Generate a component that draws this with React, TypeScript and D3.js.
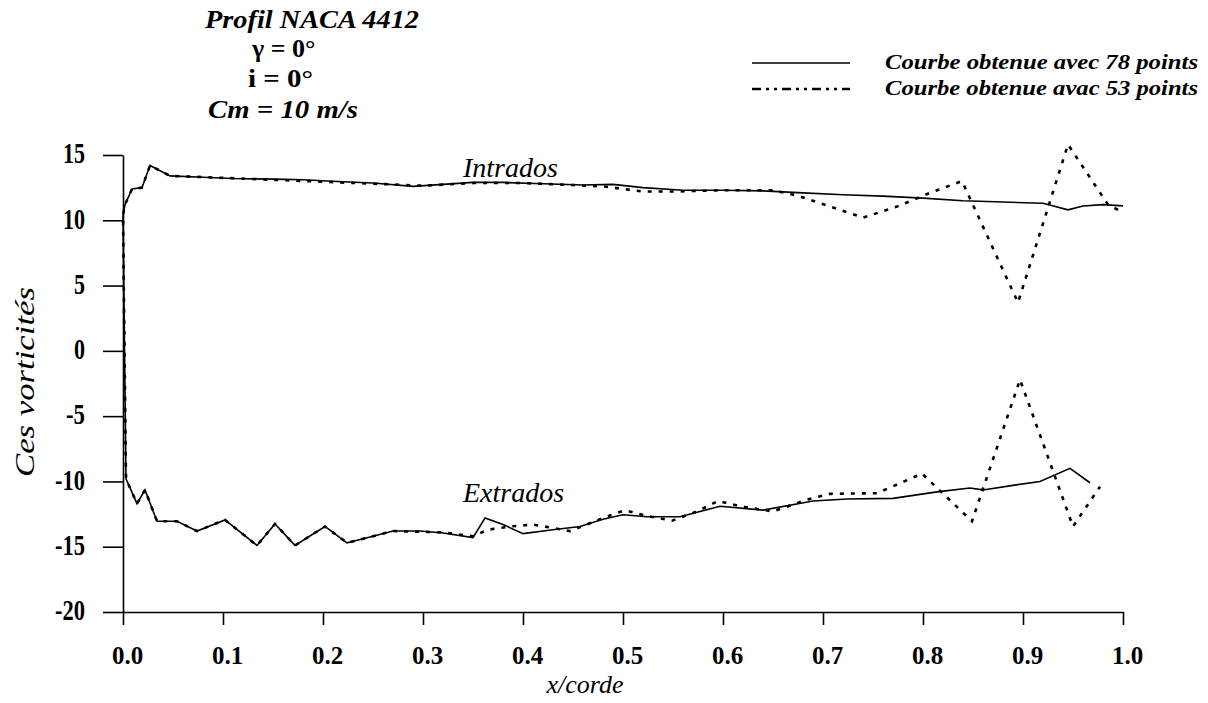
import * as d3 from "d3";
import { useEffect, useRef } from "react";

// x/corde ticks and vorticity ticks
const xTicks = [0, 0.1, 0.2, 0.3, 0.4, 0.5, 0.6, 0.7, 0.8, 0.9, 1.0];
const yTicks = [-20, -15, -10, -5, 0, 5, 10, 15];

// courbe 78 points : intrados (bord d'attaque -> bord de fuite)
const intX78 = [0, 0.002, 0.009, 0.019, 0.027, 0.047, 0.08, 0.11, 0.15, 0.18, 0.22, 0.25, 0.29, 0.32, 0.35, 0.38, 0.42, 0.46, 0.49, 0.52, 0.56, 0.6, 0.64, 0.68, 0.72, 0.76, 0.8, 0.84, 0.88, 0.92, 0.945, 0.96, 0.98, 1.0];
const intV78 = [10.4, 11.2, 12.4, 12.5, 14.2, 13.4, 13.3, 13.2, 13.15, 13.1, 12.95, 12.85, 12.6, 12.75, 12.9, 12.9, 12.8, 12.7, 12.75, 12.5, 12.3, 12.3, 12.25, 12.1, 11.95, 11.85, 11.7, 11.5, 11.4, 11.3, 10.8, 11.1, 11.2, 11.1];
// courbe 78 points : extrados
const extX78 = [0.003, 0.014, 0.022, 0.034, 0.054, 0.074, 0.102, 0.134, 0.152, 0.172, 0.202, 0.224, 0.25, 0.27, 0.297, 0.32, 0.35, 0.362, 0.38, 0.4, 0.43, 0.457, 0.48, 0.5, 0.524, 0.557, 0.597, 0.64, 0.69, 0.724, 0.77, 0.814, 0.847, 0.86, 0.89, 0.917, 0.947, 0.967];
const extV78 = [-9.8, -11.7, -10.65, -13.05, -13.05, -13.8, -12.95, -14.9, -13.25, -14.9, -13.45, -14.7, -14.2, -13.8, -13.8, -13.95, -14.3, -12.8, -13.3, -14.0, -13.7, -13.45, -12.9, -12.55, -12.7, -12.7, -11.9, -12.2, -11.5, -11.35, -11.3, -10.8, -10.5, -10.65, -10.3, -10.0, -9.0, -10.1];

// courbe 53 points : intrados
const intX53 = [0, 0.002, 0.009, 0.019, 0.027, 0.047, 0.1, 0.15, 0.2, 0.25, 0.3, 0.35, 0.4, 0.45, 0.48, 0.52, 0.55, 0.6, 0.65, 0.674, 0.717, 0.74, 0.774, 0.807, 0.839, 0.895, 0.945, 0.985, 0.995];
const intV53 = [10.4, 11.2, 12.4, 12.5, 14.2, 13.4, 13.25, 13.1, 12.95, 12.8, 12.65, 12.85, 12.85, 12.7, 12.6, 12.2, 12.2, 12.3, 12.3, 11.9, 10.8, 10.2, 11.05, 12.1, 13.0, 3.7, 15.8, 11.2, 10.8];
// courbe 53 points : extrados
const extX53 = [0.003, 0.014, 0.022, 0.034, 0.054, 0.074, 0.102, 0.134, 0.152, 0.172, 0.202, 0.224, 0.27, 0.32, 0.35, 0.365, 0.387, 0.41, 0.447, 0.48, 0.502, 0.524, 0.549, 0.574, 0.595, 0.617, 0.65, 0.684, 0.707, 0.754, 0.799, 0.849, 0.897, 0.95, 0.977];
const extV53 = [-9.8, -11.7, -10.65, -13.05, -13.05, -13.8, -12.95, -14.9, -13.25, -14.9, -13.45, -14.7, -13.8, -13.9, -14.2, -13.7, -13.45, -13.3, -13.8, -12.8, -12.2, -12.65, -13.0, -12.3, -11.5, -11.9, -12.3, -11.4, -10.95, -10.9, -9.4, -13.05, -2.2, -13.45, -10.4];

const legendLabels = ["Courbe obtenue avec 78 points", "Courbe obtenue avac 53 points"];

const serif = "Liberation Serif";
const dotted = "4,7";

// intrados parcouru du bord de fuite vers le bord d'attaque, puis extrados
const buildCurve = (ix: number[], iv: number[], ex: number[], ev: number[]) => {
  const pts: [number, number][] = [];
  for (let i = ix.length - 1; i >= 0; i--) pts.push([ix[i], iv[i]]);
  for (let i = 0; i < ex.length; i++) pts.push([ex[i], ev[i]]);
  return pts;
};

export default function App() {
  const ref = useRef<SVGSVGElement>(null);

  useEffect(() => {
    const svg = d3.select(ref.current);
    svg.selectAll("*").remove();

    const x = d3.scaleLinear().domain([0, 1]).range([123, 1123]);
    const y = d3.scaleLinear().domain([-20, 15]).range([612, 155]);

    // axes
    const xAxis = svg
      .append("g")
      .attr("transform", "translate(0," + y(-20) + ")")
      .call(
        d3.axisBottom(x)
          .tickValues(xTicks)
          .tickSize(13)
          .tickSizeOuter(0)
          .tickPadding(21)
          .tickFormat(d3.format(".1f") as any)
      );
    const yAxis = svg
      .append("g")
      .attr("transform", "translate(" + x(0) + ",0)")
      .call(
        d3.axisLeft(y)
          .tickValues(yTicks)
          .tickSize(20)
          .tickSizeOuter(0)
          .tickPadding(18)
          .tickFormat(d => String(d))
      );
    [xAxis, yAxis].forEach(a => {
      a.attr("font-family", serif);
      a.selectAll("path, line").attr("stroke", "#000").attr("stroke-width", 1.6);
      a.selectAll("text")
        .attr("fill", "#000")
        .attr("font-family", serif)
        .attr("font-weight", "bold");
    });
    xAxis.selectAll("text").attr("font-size", 25).attr("dx", 4);
    // chiffres étroits et hauts comme sur l'original
    yAxis
      .selectAll<SVGTextElement, number>("text")
      .attr("font-size", 30)
      .attr("dy", "0.26em")
      .attr("lengthAdjust", "spacingAndGlyphs")
      .attr("textLength", d => String(Math.abs(d)).length * 11 + (d < 0 ? 8 : 0));

    const line = d3
      .line<[number, number]>()
      .x(d => x(d[0]))
      .y(d => y(d[1]));

    // courbe 53 points (pointillés)
    svg
      .append("path")
      .attr("d", line(buildCurve(intX53, intV53, extX53, extV53)))
      .attr("fill", "none")
      .attr("stroke", "#000")
      .attr("stroke-width", 2.6)
      .attr("stroke-dasharray", dotted);

    // courbe 78 points (trait continu)
    svg
      .append("path")
      .attr("d", line(buildCurve(intX78, intV78, extX78, extV78)))
      .attr("fill", "none")
      .attr("stroke", "#000")
      .attr("stroke-width", 1.6);

    // legende
    const legend = svg.append("g");
    legendLabels.forEach((label, i) => {
      const ly = 63 + i * 26;
      legend
        .append("line")
        .attr("x1", 752)
        .attr("x2", 850)
        .attr("y1", ly)
        .attr("y2", ly)
        .attr("stroke", "#000")
        .attr("stroke-width", i === 0 ? 1.4 : 2.4)
        .attr("stroke-dasharray", i === 0 ? null : "9,5,3,5,3,5");
      legend
        .append("text")
        .attr("x", 885)
        .attr("y", ly + 6)
        .attr("textLength", 313)
        .attr("lengthAdjust", "spacingAndGlyphs")
        .attr("font-family", serif)
        .attr("font-style", "italic")
        .attr("font-weight", "bold")
        .attr("font-size", 21)
        .text(label);
    });

    // annotations
    const note = (tx: number, ty: number, s: string, size: number, italic = true, anchor = "start") =>
      svg
        .append("text")
        .attr("x", tx)
        .attr("y", ty)
        .attr("text-anchor", anchor)
        .attr("font-family", serif)
        .attr("font-style", italic ? "italic" : "normal")
        .attr("font-size", size)
        .text(s);

    note(205, 28, "Profil NACA 4412", 26)
      .attr("font-weight", "bold")
      .attr("textLength", 214)
      .attr("lengthAdjust", "spacingAndGlyphs");
    note(252, 57, "γ = 0°", 26, false).attr("font-weight", "bold");
    note(248, 87, "i = 0°", 26, false)
      .attr("font-weight", "bold")
      .attr("textLength", 65)
      .attr("lengthAdjust", "spacingAndGlyphs");
    note(208, 118, "Cm = 10 m/s", 26)
      .attr("font-weight", "bold")
      .attr("textLength", 150)
      .attr("lengthAdjust", "spacingAndGlyphs");
    note(463, 177, "Intrados", 28);
    note(463, 502, "Extrados", 28);
    note(585, 693, "x/corde", 26, true, "middle");
    svg
      .append("text")
      .attr("transform", "translate(34,382) rotate(-90)")
      .attr("text-anchor", "middle")
      .attr("font-family", serif)
      .attr("font-style", "italic")
      .attr("font-size", 28)
      .attr("textLength", 190)
      .attr("lengthAdjust", "spacingAndGlyphs")
      .text("Ces vorticités");
  }, []);

  return (
    <svg
      ref={ref}
      width={1208}
      height={703}
      style={{ position: "absolute", left: 0, top: 0, background: "#fff" }}
    />
  );
}
